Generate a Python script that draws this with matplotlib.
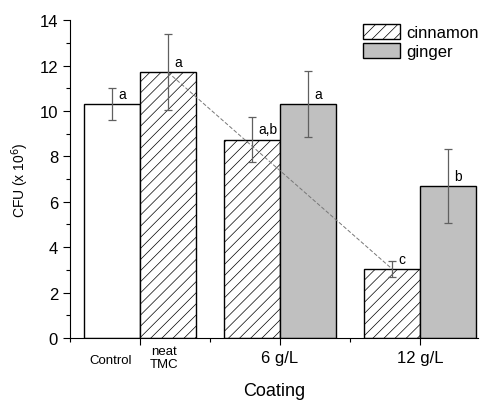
import matplotlib.pyplot as plt
from matplotlib.ticker import FixedLocator

plt.rcParams["font.family"] = ["Liberation Sans", "DejaVu Sans"]
plt.rcParams["hatch.linewidth"] = 0.5
plt.rcParams["hatch.color"] = "#8c8c8c"

# --- data ---
ctrl_vals = [10.3, 11.7]          # Control, neat TMC
ctrl_err = [0.7, 1.67]
ctrl_letters = ["a", "a"]

cinnamon_vals = [8.74, 3.04]      # 6 g/L, 12 g/L
cinnamon_err = [0.98, 0.36]
cinnamon_letters = ["a,b", "c"]

ginger_vals = [10.3, 6.7]
ginger_err = [1.45, 1.64]
ginger_letters = ["a", "b"]

group_labels = ["6 g/L", "12 g/L"]

fig = plt.figure(figsize=(4.82, 4.06), dpi=100)
ax = fig.add_axes([0.145, 0.165, 0.847, 0.783])

w = 0.4
err_kw = dict(ecolor="#606060", elinewidth=0.9, capsize=3, capthick=0.9)

# control + neat TMC
ax.bar(0.8, ctrl_vals[0], w, color="white", edgecolor="black", linewidth=1.0,
       yerr=ctrl_err[0], error_kw=err_kw)
ax.bar(1.2, ctrl_vals[1], w, color="white", edgecolor="black", linewidth=1.0,
       hatch="///", yerr=ctrl_err[1], error_kw=err_kw)

gx = [2, 3]
ax.bar([g - 0.2 for g in gx], cinnamon_vals, w, color="white", edgecolor="black",
       linewidth=1.0, hatch="///", yerr=cinnamon_err, error_kw=err_kw, label="cinnamon")
ax.bar([g + 0.2 for g in gx], ginger_vals, w, color="#c0c0c0", edgecolor="black",
       linewidth=1.0, yerr=ginger_err, error_kw=err_kw, label="ginger")

# trend line TMC -> 12 g/L cinnamon
ax.plot([1.2, 2.8], [ctrl_vals[1], cinnamon_vals[1]], linestyle=(0, (4, 2)),
        color="#777777", linewidth=0.7, zorder=5)

# letters next to the error bars
def put(x, v, s):
    ax.text(x + 0.045, v + 0.45, s, fontsize=10, ha="left", va="center")

put(0.8, ctrl_vals[0], ctrl_letters[0])
put(1.2, ctrl_vals[1], ctrl_letters[1])
for i, g in enumerate(gx):
    put(g - 0.2, cinnamon_vals[i], cinnamon_letters[i])
    put(g + 0.2, ginger_vals[i], ginger_letters[i])

ax.set_xlim(0.5, 3.414)
ax.set_ylim(0, 14)
ax.spines["top"].set_visible(False)
ax.spines["right"].set_visible(False)

ax.set_yticks(range(0, 15, 2))
ax.yaxis.set_minor_locator(FixedLocator(range(1, 14, 2)))
ax.set_xticks([1, 2, 3])
ax.set_xticklabels([""] + group_labels, fontsize=12)
ax.xaxis.set_minor_locator(FixedLocator([0.5, 1.5, 2.5]))
ax.tick_params(axis="y", labelsize=12)
ax.tick_params(which="major", direction="out", length=5, width=0.8)
ax.tick_params(which="minor", direction="out", length=3, width=0.8)

ax.text(0.79, -0.7, "Control", fontsize=9.5, ha="center", va="top")
ax.text(1.17, -0.32, "neat\nTMC", fontsize=9.5, ha="center", va="top",
        linespacing=1.05)

ax.set_xlabel("Coating", fontsize=13)
ax.xaxis.set_label_coords(0.5, -0.165)
ax.xaxis.label.set_va("center")
ax.set_ylabel("CFU (x 10$^6$)", fontsize=10, labelpad=6)

ax.legend(loc="upper right", bbox_to_anchor=(1.025, 1.02), frameon=False,
          fontsize=12, handlelength=2.2, handleheight=1.0, labelspacing=0.2,
          handletextpad=0.35, borderaxespad=0.2)

plt.savefig("out.png", dpi=100)
plt.close()
